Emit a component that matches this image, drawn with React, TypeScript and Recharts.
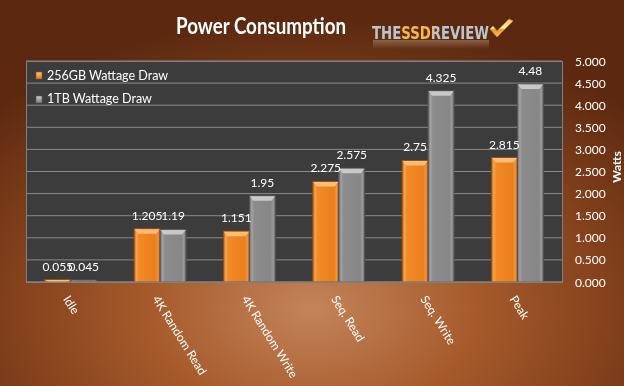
import { BarChart, Bar, XAxis, YAxis, CartesianGrid, LabelList } from "recharts";

// values (watts)
const categories = ["Idle", "4K Random Read", "4K Random Write", "Seq. Read", "Seq. Write", "Peak"];
const draw256 = [0.055, 1.205, 1.151, 2.275, 2.75, 2.815];
const draw1tb = [0.045, 1.19, 1.95, 2.575, 4.325, 4.48];
const yTicks = [0, 0.5, 1, 1.5, 2, 2.5, 3, 3.5, 4, 4.5, 5];

const SERIES = [
  { key: "gb256", name: "256GB Wattage Draw", grad: "gradOrange", top: "#ffc27e", edge: "#9c4e0e" },
  { key: "tb1", name: "1TB Wattage Draw", grad: "gradGray", top: "#cfcfcf", edge: "#555555" },
];

const rows = categories.map((name, i) => ({ name, gb256: draw256[i], tb1: draw1tb[i] }));

const FONT = "Lato, 'Open Sans', sans-serif";

function BevelBar(props: any) {
  const { x, y, width, height, tone } = props;
  if (!height || height <= 0) return null;
  const b = Math.min(5, height);
  const inset = Math.min(4, width / 4);
  return (
    <g>
      <rect x={x} y={y} width={width} height={height} fill={`url(#${tone.grad})`} stroke={tone.edge} strokeWidth={0.8} />
      {height > 2 && (
        <polygon
          points={`${x + 0.5},${y + 0.5} ${x + width - 0.5},${y + 0.5} ${x + width - inset},${y + b} ${x + inset},${y + b}`}
          fill={tone.top}
          opacity={0.9}
        />
      )}
    </g>
  );
}

function XTick({ x, y, payload }: any) {
  const ax = x - 8;
  const ay = y + 17;
  return (
    <text x={ax} y={ay} transform={`rotate(58, ${ax}, ${ay})`} fill="#ffffff" fontSize={12} fontFamily={FONT}>
      {payload.value}
    </text>
  );
}

function YTick({ x, y, payload }: any) {
  return (
    <text x={x + 13} y={y + 4.5} fill="#ffffff" fontSize={12} fontFamily={FONT}>
      {Number(payload.value).toFixed(3)}
    </text>
  );
}

export default function App() {
  return (
    <div
      style={{
        position: "fixed",
        left: 0,
        top: 0,
        width: 624,
        height: 386,
        overflow: "hidden",
        background:
          "radial-gradient(ellipse 70% 75% at 50% 80%, #c4845a 0%, #a65a2b 38%, #86431d 66%, #5c2910 100%)",
        fontFamily: FONT,
      }}
    >
      <BarChart
        width={624}
        height={386}
        data={rows}
        margin={{ top: 61, right: 0, left: 26, bottom: 0 }}
        barCategoryGap="21%"
        barGap={0}
      >
        <defs>
          <linearGradient id="gradOrange" x1="0" y1="0" x2="1" y2="0">
            <stop offset="0%" stopColor="#b75f12" />
            <stop offset="9%" stopColor="#f8a44e" />
            <stop offset="18%" stopColor="#f28a26" />
            <stop offset="82%" stopColor="#ea7f1d" />
            <stop offset="92%" stopColor="#f09742" />
            <stop offset="100%" stopColor="#a6520f" />
          </linearGradient>
          <linearGradient id="gradGray" x1="0" y1="0" x2="1" y2="0">
            <stop offset="0%" stopColor="#666666" />
            <stop offset="9%" stopColor="#a3a3a3" />
            <stop offset="18%" stopColor="#8c8c8c" />
            <stop offset="82%" stopColor="#878787" />
            <stop offset="92%" stopColor="#9c9c9c" />
            <stop offset="100%" stopColor="#585858" />
          </linearGradient>
        </defs>
        <CartesianGrid vertical={false} stroke="#8a8a8a" strokeWidth={1} fill="#3c3c3c" fillOpacity={1} />
        <XAxis
          dataKey="name"
          height={104}
          interval={0}
          tickSize={0}
          tickMargin={0}
          axisLine={{ stroke: "#808080" }}
          tickLine={false}
          tick={<XTick />}
        />
        <YAxis
          orientation="right"
          width={62}
          domain={[0, 5]}
          ticks={yTicks}
          interval={0}
          tickSize={0}
          tickMargin={0}
          axisLine={false}
          tickLine={false}
          tick={<YTick />}
        />
        {SERIES.map((s) => (
          <Bar
            key={s.key}
            dataKey={s.key}
            name={s.name}
            fill={s.top}
            isAnimationActive={false}
            shape={(p: any) => <BevelBar {...p} tone={s} />}
          >
            <LabelList dataKey={s.key} position="top" offset={9} fill="#ffffff" fontSize={12} fontFamily={FONT} />
          </Bar>
        ))}
      </BarChart>

      {/* plot border */}
      <div
        style={{
          position: "absolute",
          left: 26,
          top: 61,
          width: 535,
          height: 220,
          border: "1px solid #808080",
          pointerEvents: "none",
        }}
      />

      <svg width={624} height={386} style={{ position: "absolute", left: 0, top: 0, pointerEvents: "none" }}>
        <defs>
          <linearGradient id="logoFill" x1="0" y1="0" x2="1" y2="0">
            <stop offset="0%" stopColor="#b9c6cf" />
            <stop offset="25%" stopColor="#b9c6cf" />
            <stop offset="25%" stopColor="#f3b94c" />
            <stop offset="52%" stopColor="#f3b94c" />
            <stop offset="52%" stopColor="#b9c6cf" />
            <stop offset="100%" stopColor="#b9c6cf" />
          </linearGradient>
          <linearGradient id="logoShade" x1="0" y1="0" x2="0" y2="1">
            <stop offset="0%" stopColor="#2a3a48" stopOpacity={0.55} />
            <stop offset="45%" stopColor="#ffffff" stopOpacity={0.35} />
            <stop offset="55%" stopColor="#2a3a48" stopOpacity={0.35} />
            <stop offset="100%" stopColor="#ffffff" stopOpacity={0.1} />
          </linearGradient>
          <linearGradient id="logoGold" x1="0" y1="0" x2="0" y2="1">
            <stop offset="0%" stopColor="#f6c25a" />
            <stop offset="50%" stopColor="#fff2b0" />
            <stop offset="60%" stopColor="#e49a2a" />
            <stop offset="100%" stopColor="#f5c35c" />
          </linearGradient>
          <linearGradient id="logoShine" x1="0" y1="0" x2="0" y2="1">
            <stop offset="0%" stopColor="#b9a58a" stopOpacity={0.45} />
            <stop offset="100%" stopColor="#b9a58a" stopOpacity={0} />
          </linearGradient>
          <linearGradient id="legOrange" x1="0" y1="0" x2="0" y2="1">
            <stop offset="0%" stopColor="#ffc27e" />
            <stop offset="100%" stopColor="#e57a15" />
          </linearGradient>
          <linearGradient id="legGray" x1="0" y1="0" x2="0" y2="1">
            <stop offset="0%" stopColor="#d0d0d0" />
            <stop offset="100%" stopColor="#7a7a7a" />
          </linearGradient>
        </defs>

        {/* title */}
        <text
          x={261}
          y={34}
          textAnchor="middle"
          fill="#ffffff"
          fontSize={22}
          fontWeight="bold"
          fontFamily={FONT}
          textLength={170}
          lengthAdjust="spacingAndGlyphs"
        >
          Power Consumption
        </text>

        {/* logo */}
        <rect x={373} y={40} width={116} height={9} fill="url(#logoShine)" />
        <text
          x={372}
          y={39}
          fontFamily="'DejaVu Sans Condensed', 'DejaVu Sans', sans-serif"
          fontWeight="bold"
          fontSize={18}
          textLength={117}
          lengthAdjust="spacingAndGlyphs"
          fill="url(#logoFill)"
        >
          THESSDREVIEW
        </text>
        <rect x={372} y={25} width={117} height={14} fill="url(#logoShade)" style={{ mixBlendMode: "overlay" }} opacity={0.0} />
        <path
          d="M490 29 L497 37 L513 21 L509 19 L497 31 L493 26 Z"
          fill="url(#logoGold)"
          stroke="#c98a2a"
          strokeWidth={0.8}
        />

        {/* legend */}
        {SERIES.map((s, i) => (
          <g key={s.key}>
            <rect
              x={36}
              y={72 + i * 24}
              width={6}
              height={7}
              fill={i === 0 ? "url(#legOrange)" : "url(#legGray)"}
              stroke={s.edge}
              strokeWidth={0.6}
            />
            <text x={47} y={80 + i * 23} fill="#ffffff" fontSize={12.5} fontFamily={FONT}>
              {s.name}
            </text>
          </g>
        ))}

        {/* y-axis title */}
        <text
          x={616}
          y={167}
          transform="rotate(-90, 616, 167)"
          textAnchor="middle"
          dominantBaseline="central"
          fill="#ffffff"
          fontSize={12}
          fontWeight="bold"
          fontFamily={FONT}
        >
          Watts
        </text>
      </svg>
    </div>
  );
}
